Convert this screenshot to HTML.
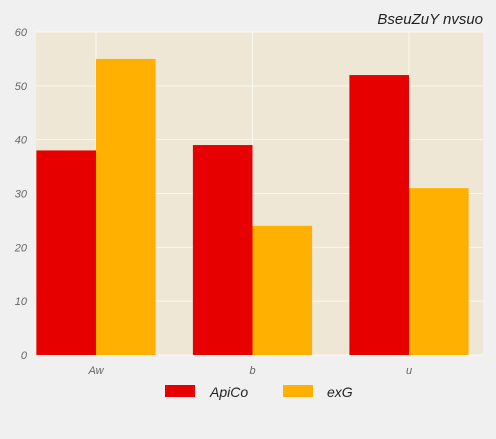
<!DOCTYPE html>
<html><head><meta charset="utf-8"><style>
body{margin:0;background:#f0f0f0;width:496px;height:434px;overflow:hidden;font-family:"Liberation Sans",sans-serif}
text{font-family:"Liberation Sans",sans-serif;font-style:italic}
</style></head><body>
<svg id="chart" width="496" height="434" xmlns="http://www.w3.org/2000/svg">
<rect x="36" y="32" width="447" height="323" fill="#efe7d6"/>
<g id="grid"></g><g id="bars"></g><g id="axes"></g>
<text x="483" y="24" text-anchor="end" font-size="15" fill="#222">BseuZuY nvsuo</text>
<g>
<rect x="165" y="385" width="30" height="12" fill="#e60000"/>
<text x="210" y="397" font-size="14" fill="#222">ApiCo</text>
<rect x="283" y="385" width="30" height="12" fill="#ffb000"/>
<text x="327" y="397" font-size="14" fill="#222">exG</text>
</g>
</svg>
<script>
const categories=["Aw","b","u"];
const seriesApiCo=[38,39,52];
const seriesExG=[55,24,31];
const yTicks=[0,10,20,30,40,50,60];
const colors=["#e60000","#ffb000"];
const NS="http://www.w3.org/2000/svg";
function y(v){return 355-v*(323/60);}
function xc(i){return 96+156.5*i;}
const bw=59.6;
function mk(tag,attrs,parent){const e=document.createElementNS(NS,tag);for(const k in attrs)e.setAttribute(k,attrs[k]);parent.appendChild(e);return e;}
const grid=document.getElementById('grid'),bars=document.getElementById('bars'),axes=document.getElementById('axes');
yTicks.forEach(t=>{
 const l=mk('line',{x1:36,x2:483,y1:y(t),y2:y(t),stroke:'#fbf8f0','stroke-width':1},grid);
 
 
 const tx=mk('text',{x:27,y:y(t)+4,'text-anchor':'end','font-size':11,fill:'#666'},axes);
 tx.textContent=t;
 
 
});
categories.forEach((c,i)=>{
 const l=mk('line',{x1:xc(i),x2:xc(i),y1:32,y2:355,stroke:'#fbf8f0','stroke-width':1},grid);
 
 
 const r1=mk('rect',{x:xc(i)-bw,y:y(seriesApiCo[i]),width:bw,height:355-y(seriesApiCo[i]),fill:colors[0]},bars);
 
 
 const r2=mk('rect',{x:xc(i),y:y(seriesExG[i]),width:bw,height:355-y(seriesExG[i]),fill:colors[1]},bars);
 
 
 const tx=mk('text',{x:xc(i),y:374,'text-anchor':'middle','font-size':11,fill:'#666'},axes);
 tx.textContent=c;
 
 
});
</script>
</body></html>
